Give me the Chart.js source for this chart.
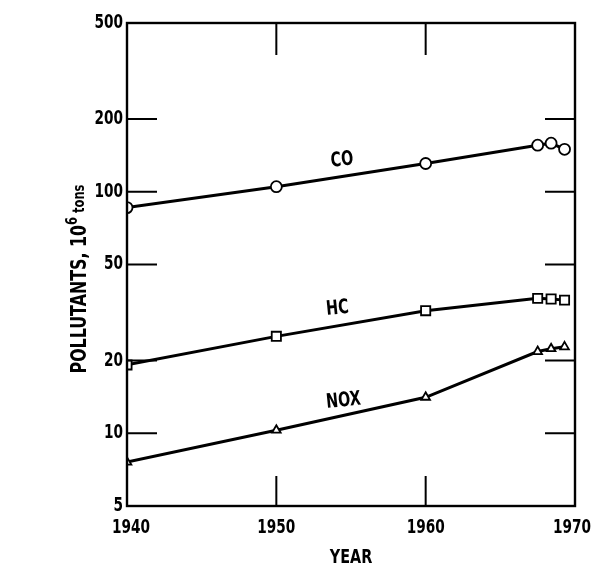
<!DOCTYPE html>
<html>
<head>
<meta charset="utf-8">
<script src="https://cdn.jsdelivr.net/npm/chart.js@4/dist/chart.umd.min.js"></script>
<style>
  html, body { margin: 0; padding: 0; background: #fff; }
  #wrap { width: 592px; height: 578px; }
</style>
</head>
<body>
<div id="wrap"><canvas id="pollutantChart"></canvas></div>
<script>
// Emission estimates, 10^6 tons per year
const years = [1940, 1950, 1960, 1967.5, 1968.4, 1969.3];
const coValues = [86, 105, 131, 156, 159, 150];
const hcValues = [19.2, 25.2, 32.2, 36.2, 36.0, 35.6];
const noxValues = [7.6, 10.3, 14.1, 21.8, 22.4, 22.8];

const yTicks = [5, 10, 20, 50, 100, 200, 500];
const xTicks = [1940, 1950, 1960, 1970];
const yMarkTicks = [10, 20, 50, 100, 200];   // short inner marks on the sides
const xMarkTicks = [1950, 1960];              // short inner marks top and bottom

// series labels written beside the lines
const seriesLabels = [
    { text: 'CO', x: 1954.4, y: 135 },
    { text: 'HC', x: 1954.1, y: 32.8 },
    { text: 'NOX', x: 1954.5, y: 13.6 }
];

const FONT = "'DejaVu Sans', sans-serif";
const SQUEEZE = 0.72;   // narrow lettering

function toPoints(values) {
    return values.map((v, i) => ({ x: years[i], y: v }));
}

function series(values, style, radius) {
    return {
        data: toPoints(values),
        borderColor: '#000',
        borderWidth: 3,
        pointStyle: style,
        pointRadius: radius,
        pointBorderWidth: 1.8,
        pointBackgroundColor: '#fff',
        pointBorderColor: '#000',
        tension: 0
    };
}

// draw condensed text; align is 'left' | 'center' | 'right'
function narrowText(ctx, text, x, y, size, align, angle) {
    ctx.save();
    ctx.translate(x, y);
    if (angle) ctx.rotate(angle);
    ctx.scale(SQUEEZE, 1);
    ctx.font = 'bold ' + size + 'px ' + FONT;
    ctx.textAlign = align;
    ctx.textBaseline = 'middle';
    ctx.fillText(text, 0, 0);
    ctx.restore();
}

// frame, inner tick marks, tick labels, axis titles and line labels
const decorations = {
    id: 'decorations',
    afterDatasetsDraw(chart) {
        const { ctx, chartArea: a } = chart;
        const xs = chart.scales.x, ys = chart.scales.y;
        ctx.save();
        ctx.strokeStyle = '#000';
        ctx.lineWidth = 2.4;
        ctx.strokeRect(a.left, a.top, a.right - a.left, a.bottom - a.top);

        ctx.lineWidth = 2;
        ctx.beginPath();
        yMarkTicks.forEach(v => {
            const y = ys.getPixelForValue(v);
            ctx.moveTo(a.left, y); ctx.lineTo(a.left + 30, y);
            ctx.moveTo(a.right, y); ctx.lineTo(a.right - 30, y);
        });
        xMarkTicks.forEach(v => {
            const x = xs.getPixelForValue(v);
            ctx.moveTo(x, a.top); ctx.lineTo(x, a.top + 32);
            ctx.moveTo(x, a.bottom); ctx.lineTo(x, a.bottom - 30);
        });
        ctx.stroke();

        ctx.fillStyle = '#000';

        // tick labels
        yTicks.forEach(v => narrowText(ctx, String(v), a.left - 4, ys.getPixelForValue(v), 19, 'right'));
        xTicks.forEach((v, i) => {
            const dx = i === 0 ? 4 : (i === xTicks.length - 1 ? -3 : 0);
            narrowText(ctx, String(v), xs.getPixelForValue(v) + dx, a.bottom + 22, 19, 'center');
        });

        seriesLabels.forEach(l => {
            narrowText(ctx, l.text, xs.getPixelForValue(l.x), ys.getPixelForValue(l.y), 20, 'center', -0.1);
        });

        // x title
        narrowText(ctx, 'YEAR', (a.left + a.right) / 2, 558, 20, 'center');

        // y title, rotated, with superscript exponent
        ctx.save();
        ctx.translate(80, 279);
        ctx.rotate(-Math.PI / 2);
        ctx.scale(SQUEEZE, 1);
        ctx.textAlign = 'left';
        ctx.textBaseline = 'middle';
        const big = 'bold 22px ' + FONT, small = 'bold 16px ' + FONT;
        const parts = [['POLLUTANTS, 10', big, 0], ['6', small, -7], [' tons', small, 0]];
        let w = 0;
        parts.forEach(p => { ctx.font = p[1]; w += ctx.measureText(p[0]).width; });
        let cx = -w / 2;
        parts.forEach(p => {
            ctx.font = p[1];
            ctx.fillText(p[0], cx, p[2]);
            cx += ctx.measureText(p[0]).width;
        });
        ctx.restore();
        ctx.restore();
    }
};

new Chart(document.getElementById('pollutantChart'), {
    type: 'line',
    data: {
        datasets: [
            series(coValues, 'circle', 5.5),
            series(hcValues, 'rect', 6.5),
            series(noxValues, 'triangle', 5)
        ]
    },
    options: {
        responsive: true,
        maintainAspectRatio: false,
        animation: false,
        layout: { padding: { top: 23, right: 17, left: 0, bottom: 0 } },
        plugins: { legend: { display: false }, tooltip: { enabled: false } },
        scales: {
            x: {
                type: 'linear',
                min: 1940,
                max: 1970,
                grid: { display: false },
                border: { display: false },
                ticks: { display: false },
                afterBuildTicks: s => { s.ticks = xTicks.map(v => ({ value: v })); },
                afterFit: s => { s.height = 72; s.paddingLeft = 0; s.paddingRight = 0; }
            },
            y: {
                type: 'logarithmic',
                min: 5,
                max: 500,
                grid: { display: false },
                border: { display: false },
                ticks: { display: false },
                afterBuildTicks: s => { s.ticks = yTicks.map(v => ({ value: v })); },
                afterFit: s => { s.width = 127; s.paddingTop = 0; s.paddingBottom = 0; }
            }
        }
    },
    plugins: [decorations]
});
</script>
</body>
</html>
